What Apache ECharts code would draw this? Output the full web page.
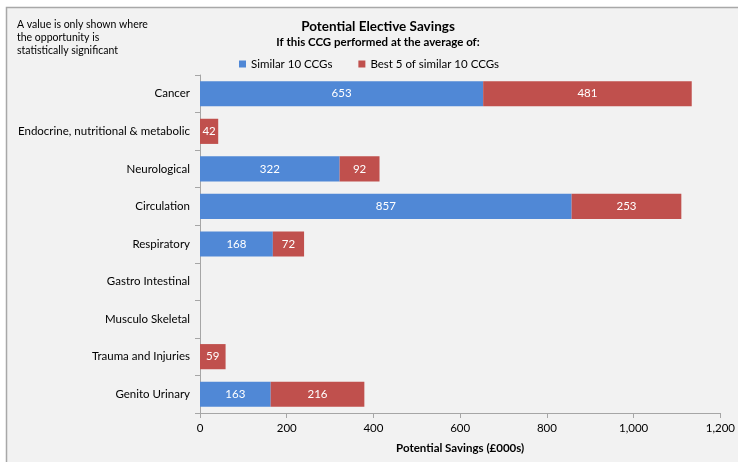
<!DOCTYPE html>
<html><head><meta charset="utf-8">
<script src="https://cdn.jsdelivr.net/npm/echarts@6/dist/echarts.min.js"></script>
<style>html,body{margin:0;padding:0;background:#fff;}#c{width:738px;height:462px;}</style>
</head><body><div id="c"></div>
<script>
var categories = ["Cancer","Endocrine, nutritional & metabolic","Neurological","Circulation","Respiratory","Gastro Intestinal","Musculo Skeletal","Trauma and Injuries","Genito Urinary"];
var similar10 = [653, null, 322, 857, 168, null, null, null, 163];
var best5 = [481, 42, 92, 253, 72, null, null, 59, 216];
var xTicks = [0, 200, 400, 600, 800, 1000, 1200];

var FONT = 'Lato';
var chart = echarts.init(document.getElementById('c'));
chart.setOption({
  backgroundColor: '#ffffff',
  textStyle: {fontFamily: FONT},
  graphic: [
    {type: 'rect', z: -10, shape: {x: 6.5, y: 7.5, width: 760, height: 480}, style: {fill: '#f2f2f2', stroke: '#a8a8a8', lineWidth: 1.5}},
    {type: 'text', left: 17, top: 18, style: {text: 'A value is only shown where\nthe opportunity is\nstatistically significant', fontFamily: FONT, fontSize: 10.5, lineHeight: 13, fill: '#000'}}
  ],
  title: {
    text: 'Potential Elective Savings',
    subtext: 'If this CCG performed at the average of:',
    left: 373, textAlign: 'center', top: 15, itemGap: 2,
    textStyle: {fontFamily: FONT, fontSize: 13.5, fontWeight: 'bold', color: '#000'},
    subtextStyle: {fontFamily: FONT, fontSize: 11.5, fontWeight: 'bold', color: '#000'}
  },
  legend: {
    top: 53, left: 'center', itemWidth: 7, itemHeight: 7, itemGap: 26, icon: 'rect',
    textStyle: {fontFamily: FONT, fontSize: 11.5, color: '#000'},
    data: ['Similar 10 CCGs', 'Best 5 of similar 10 CCGs']
  },
  grid: {left: 200, right: 16, top: 75, bottom: 49},
  xAxis: {
    type: 'value', min: 0, max: 1200, interval: 200,
    name: 'Potential Savings (£000s)', nameLocation: 'middle', nameGap: 29,
    nameTextStyle: {fontFamily: FONT, fontSize: 11.5, fontWeight: 'bold', color: '#000'},
    axisLine: {show: true, lineStyle: {color: '#a6a6a6'}},
    axisTick: {show: true, length: 5, lineStyle: {color: '#a6a6a6'}},
    axisLabel: {fontFamily: FONT, fontSize: 11.5, color: '#000', margin: 9,
      formatter: function (v) { return xTicks.indexOf(v) >= 0 ? v.toLocaleString('en-US') : ''; }},
    splitLine: {show: false}
  },
  yAxis: {
    type: 'category', inverse: true, data: categories,
    axisLine: {show: true, lineStyle: {color: '#a6a6a6'}},
    axisTick: {show: true, length: 5, lineStyle: {color: '#a6a6a6'}},
    axisLabel: {fontFamily: FONT, fontSize: 11.5, color: '#000', margin: 10}
  },
  series: [
    {name: 'Similar 10 CCGs', type: 'bar', stack: 's', data: similar10, barCategoryGap: '33%',
     itemStyle: {color: '#5088d6'},
     label: {show: true, position: 'inside', color: '#fff', fontFamily: FONT, fontSize: 11.5}},
    {name: 'Best 5 of similar 10 CCGs', type: 'bar', stack: 's', data: best5, barCategoryGap: '33%',
     itemStyle: {color: '#c0504d'},
     label: {show: true, position: 'inside', color: '#fff', fontFamily: FONT, fontSize: 11.5}}
  ]
});
</script></body></html>
